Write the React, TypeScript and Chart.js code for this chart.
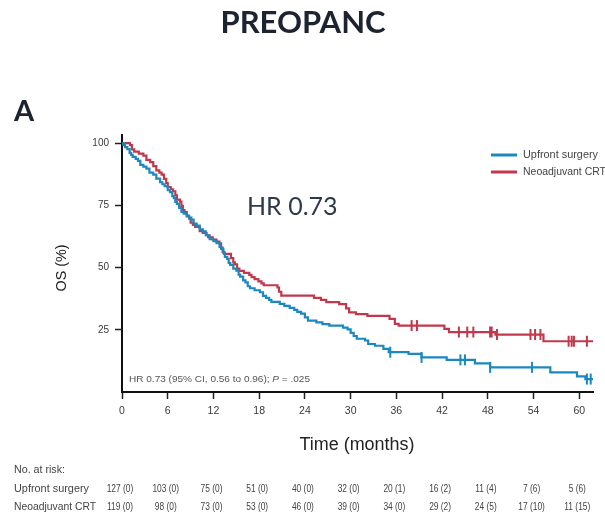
import React, { useEffect, useRef } from "react";
import { Chart, registerables } from "chart.js";

Chart.register(...registerables);

// Kaplan–Meier overall survival, PREOPANC trial
const followUpEnd = 61.8;

const upfrontTimes = [
  0, 0.2, 0.4, 0.7, 1.0, 1.2, 1.4, 1.8, 2.1, 2.4, 2.8, 3.2, 3.6, 4.1, 4.5, 5.0, 5.3, 5.6, 6.0, 6.3,
  6.6, 6.8, 7.0, 7.2, 7.5, 7.8, 8.1, 8.5, 8.8, 9.1, 9.4, 9.8, 10.2, 10.6, 11.0, 11.3, 11.5, 12.0, 12.4, 12.8,
  13.0, 13.3, 13.5, 13.8, 14.0, 14.2, 14.6, 15.0, 15.3, 15.5, 15.9, 16.2, 16.5, 16.8, 17.4, 18.1, 18.5, 18.9, 19.3, 19.6,
  20.7, 21.3, 22.0, 22.6, 23.0, 23.5, 24.0, 24.4, 25.5, 26.3, 27.2, 29.0, 29.6,
  30.0, 30.4, 30.8, 31.9, 32.3, 33.2, 34.3, 35.0, 37.6, 39.3, 42.6, 46.3, 48.3, 56.2, 59.7, 60.8,
];
const upfrontSurvival = [
  100, 99.2, 98.4, 97.6, 96.1, 95.3, 94.5, 93.7, 92.9, 91.3, 90.6, 89.8, 88.2, 87.4, 85.8, 84.3, 83.5, 82.7, 81.1, 80.3,
  78.7, 77.9, 76.4, 75.6, 74.0, 72.4, 71.7, 70.9, 70.1, 69.3, 67.7, 66.9, 65.4, 64.6, 63.0, 62.2, 61.4, 60.6, 59.8, 58.3,
  57.5, 55.9, 54.3, 53.5, 51.9, 51.1, 49.6, 48.8, 47.2, 46.4, 44.9, 44.1, 42.5, 41.7, 40.9, 40.1, 38.6, 37.8, 37.0, 36.2,
  35.4, 34.6, 33.8, 33.0, 32.2, 31.5, 30.0, 28.7, 28.0, 27.3, 26.7, 25.9, 25.2,
  23.8, 22.5, 21.4, 20.7, 19.3, 18.6, 17.3, 16.0, 15.3, 13.9, 12.9, 11.5, 9.9, 7.9, 6.3, 5.2,
];
const upfrontCensored = [35.2, 39.3, 44.4, 45.0, 48.3, 53.8, 61.0, 61.5];

const neoTimes = [
  0, 1.05, 1.3, 1.6, 2.2, 2.8, 3.2, 3.7, 4.1, 4.5, 4.9, 5.2, 5.5, 5.8, 6.0, 6.4, 6.7, 7.0, 7.2, 7.6,
  7.8, 8.0, 8.2, 8.5, 8.8, 9.0, 9.3, 9.6, 10.2, 10.6, 11.1, 11.5, 11.9, 12.4, 12.8, 13.0, 13.2, 13.4, 14.3, 14.6,
  14.8, 15.1, 15.4, 16.0, 16.7, 17.0, 17.4, 17.9, 18.3, 18.6, 20.4, 20.6, 20.9, 25.2, 26.1, 26.8, 28.5, 29.4, 29.8, 30.7,
  32.2, 35.1, 35.8, 36.3, 42.3, 42.9, 49.0, 55.3,
];
const neoSurvival = [
  100, 99.2, 97.5, 96.6, 95.8, 95.0, 93.3, 92.4, 90.8, 89.1, 88.2, 87.4, 85.7, 84.0, 82.4, 81.5, 80.7, 79.0, 77.3, 76.5,
  74.8, 73.1, 72.3, 70.6, 69.7, 68.1, 67.2, 66.4, 64.7, 63.9, 63.0, 62.2, 61.3, 60.5, 59.7, 58.0, 56.3, 55.5, 53.8, 52.1,
  51.3, 49.6, 48.7, 47.9, 47.1, 46.2, 45.4, 44.5, 43.7, 42.9, 42.0, 40.3, 38.7, 37.8, 37.0, 36.1, 35.3, 33.6, 32.0, 31.3,
  30.6, 29.4, 27.4, 26.7, 25.4, 24.1, 23.1, 20.4,
];
const neoCensored = [38.0, 38.7, 44.2, 45.3, 46.1, 48.3, 48.5, 49.2, 53.6, 54.2, 54.9, 58.6, 59.0, 59.3, 61.0];

const xTicks = [0, 6, 12, 18, 24, 30, 36, 42, 48, 54, 60];
const yTicks = [25, 50, 75, 100];

const upfrontAtRisk = [127, 103, 75, 51, 40, 32, 20, 16, 11, 7, 5];
const upfrontCensoredCount = [0, 0, 0, 0, 0, 0, 1, 2, 4, 6, 6];
const neoAtRisk = [119, 98, 73, 53, 46, 39, 34, 29, 24, 17, 11];
const neoCensoredCount = [0, 0, 0, 0, 0, 0, 0, 2, 5, 10, 15];

const groupLabels = ["Upfront surgery", "Neoadjuvant CRT"];
const BLUE = "#1b88bf";
const RED = "#c1384c";
const SANS = "'Liberation Sans', 'DejaVu Sans', sans-serif";

function survivalAt(times: number[], surv: number[], t: number) {
  let s = surv[0];
  for (let i = 0; i < times.length; i++) if (times[i] <= t) s = surv[i];
  return s;
}

function curve(times: number[], surv: number[]) {
  const pts = times.map((t, i) => ({ x: t, y: surv[i] }));
  pts.push({ x: followUpEnd, y: surv[surv.length - 1] });
  return pts;
}

function marks(censored: number[], times: number[], surv: number[]) {
  return censored.map((t) => ({ x: t, y: survivalAt(times, surv, t) }));
}

// draw text squeezed/stretched to a given width
function fitText(
  ctx: CanvasRenderingContext2D,
  text: string,
  x: number,
  y: number,
  width: number,
  align: "left" | "center" = "left"
) {
  const w = ctx.measureText(text).width;
  const sx = width / w;
  ctx.save();
  ctx.translate(x, y);
  ctx.scale(sx, 1);
  ctx.textAlign = align;
  ctx.fillText(text, 0, 0);
  ctx.restore();
}

const annotations = {
  id: "kmAnnotations",
  afterDraw(chart: any) {
    const ctx: CanvasRenderingContext2D = chart.ctx;
    const xs = chart.scales.x;
    ctx.save();
    ctx.textBaseline = "alphabetic";

    // heading and panel letter
    ctx.fillStyle = "#1d2330";
    ctx.font = "bold 31px Lato";
    ctx.textAlign = "center";
    ctx.fillText("PREOPANC", 303, 33);
    ctx.textAlign = "left";
    ctx.font = "bold 29px Lato";
    ctx.fillText("A", 14, 121);

    // hazard ratio callout
    ctx.fillStyle = "#2e3a4c";
    ctx.font = "25px Lato";
    ctx.fillText("HR 0.73", 247, 215);

    // footnote inside plot
    ctx.fillStyle = "#555";
    const p1 = "HR 0.73 (95% CI, 0.56 to 0.96); ";
    const p2 = "P";
    const p3 = " = .025";
    ctx.font = `9px ${SANS}`;
    const w1 = ctx.measureText(p1).width;
    const w3 = ctx.measureText(p3).width;
    ctx.font = `italic 9px ${SANS}`;
    const w2 = ctx.measureText(p2).width;
    const sx = 181 / (w1 + w2 + w3);
    ctx.save();
    ctx.translate(129, 382);
    ctx.scale(sx, 1);
    ctx.font = `9px ${SANS}`;
    ctx.fillText(p1, 0, 0);
    ctx.font = `italic 9px ${SANS}`;
    ctx.fillText(p2, w1, 0);
    ctx.font = `9px ${SANS}`;
    ctx.fillText(p3, w1 + w2, 0);
    ctx.restore();

    // legend
    const legendColors = [BLUE, RED];
    ctx.lineWidth = 3;
    ctx.font = `10.5px ${SANS}`;
    ctx.textBaseline = "middle";
    groupLabels.forEach((label, i) => {
      const y = 155 + i * 17;
      ctx.strokeStyle = legendColors[i];
      ctx.beginPath();
      ctx.moveTo(491, y);
      ctx.lineTo(517, y);
      ctx.stroke();
      ctx.fillStyle = "#444";
      fitText(ctx, label, 523, y, i === 0 ? 75 : 83);
    });

    // axis titles
    ctx.fillStyle = "#222";
    ctx.font = `15px ${SANS}`;
    ctx.save();
    ctx.translate(62, 268);
    ctx.rotate(-Math.PI / 2);
    fitText(ctx, "OS (%)", 0, 0, 47, "center");
    ctx.restore();
    ctx.font = `18px ${SANS}`;
    fitText(ctx, "Time (months)", 357, 445, 115, "center");

    // number at risk table
    ctx.textBaseline = "alphabetic";
    ctx.fillStyle = "#444";
    ctx.font = `10.2px ${SANS}`;
    fitText(ctx, "No. at risk:", 14, 473, 51);
    fitText(ctx, groupLabels[0], 14, 492, 75);
    fitText(ctx, groupLabels[1], 14, 510, 82);
    const rows = [
      { y: 492, n: upfrontAtRisk, c: upfrontCensoredCount },
      { y: 510, n: neoAtRisk, c: neoCensoredCount },
    ];
    ctx.font = `10px ${SANS}`;
    rows.forEach((row) => {
      xTicks.forEach((t, i) => {
        const label = `${row.n[i]} (${row.c[i]})`;
        const w = ctx.measureText(label).width * 0.84;
        fitText(ctx, label, xs.getPixelForValue(t) - 2, row.y, w, "center");
      });
    });
    ctx.restore();
  },
};

export default function App() {
  const ref = useRef<HTMLCanvasElement | null>(null);

  useEffect(() => {
    if (!ref.current) return;
    const lineBase = {
      type: "line" as const,
      stepped: "before" as const,
      pointRadius: 0,
      borderWidth: 2.2,
      fill: false,
      tension: 0,
    };
    const tickBase = {
      type: "scatter" as const,
      showLine: false,
      pointStyle: "line" as const,
      rotation: 90,
      pointRadius: 5.5,
      borderWidth: 2,
    };
    const chart = new Chart(ref.current, {
      type: "line",
      data: {
        datasets: [
          { ...lineBase, label: groupLabels[0], data: curve(upfrontTimes, upfrontSurvival), borderColor: BLUE },
          { ...lineBase, label: groupLabels[1], data: curve(neoTimes, neoSurvival), borderColor: RED },
          { ...tickBase, label: "c1", data: marks(upfrontCensored, upfrontTimes, upfrontSurvival), borderColor: BLUE, backgroundColor: BLUE },
          { ...tickBase, label: "c2", data: marks(neoCensored, neoTimes, neoSurvival), borderColor: RED, backgroundColor: RED },
        ] as any,
      },
      options: {
        responsive: false,
        animation: false,
        events: [],
        layout: { padding: { top: 135, right: 12, bottom: 0, left: 0 } },
        plugins: {
          legend: { display: false },
          tooltip: { enabled: false },
          title: { display: false },
        },
        scales: {
          x: {
            type: "linear",
            min: 0,
            max: followUpEnd,
            afterBuildTicks: (s: any) => {
              s.ticks = xTicks.map((v) => ({ value: v }));
            },
            afterFit: (s: any) => {
              s.height = 120;
            },
            grid: { drawOnChartArea: false, drawTicks: true, tickLength: 7, tickColor: "#222", tickWidth: 1.5 },
            border: { display: true, color: "#111", width: 2 },
            ticks: {
              padding: 6,
              autoSkip: false,
              maxRotation: 0,
              color: "#3a3a3a",
              font: { family: SANS, size: 10.5 },
            },
          },
          y: {
            type: "linear",
            min: 0,
            max: 103.3,
            afterBuildTicks: (s: any) => {
              s.ticks = yTicks.map((v) => ({ value: v }));
            },
            afterFit: (s: any) => {
              s.width = 122;
            },
            grid: { drawOnChartArea: false, drawTicks: true, tickLength: 7, tickColor: "#222", tickWidth: 1.5 },
            border: { display: true, color: "#111", width: 2 },
            ticks: {
              padding: 6,
              color: "#3a3a3a",
              font: { family: SANS, size: 10 },
            },
          },
        },
      } as any,
      plugins: [annotations],
    });
    return () => chart.destroy();
  }, []);

  return (
    <div style={{ position: "fixed", left: 0, top: 0, width: 605, height: 512, background: "#fff" }}>
      <canvas ref={ref} width={605} height={512} style={{ display: "block" }} />
    </div>
  );
}
